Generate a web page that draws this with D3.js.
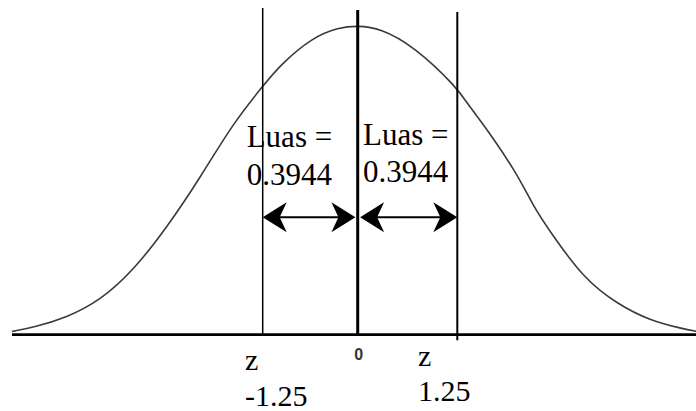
<!DOCTYPE html>
<html>
<head>
<meta charset="utf-8">
<script src="https://cdn.jsdelivr.net/npm/d3@7"></script>
<style>
  body { margin: 0; background: #fff; }
  svg { display: block; }
</style>
</head>
<body>
<div id="chart"></div>
<script>
// normal curve: z value and relative height (peak = 1)
const curveZ = [-4.55, -4.27, -3.83, -3.39, -2.95, -2.51, -2.07, -1.64, -1.25, -1.02, -0.59, -0.25, 0,
                0.28, 0.70, 1.25, 1.41, 1.57, 2.00, 2.20, 2.41, 2.83, 3.25, 3.67, 4.08, 4.26];
const curveH = [0.010, 0.023, 0.055, 0.110, 0.208, 0.347, 0.509, 0.684, 0.804, 0.873, 0.963, 0.994, 1.0,
                0.992, 0.935, 0.800, 0.735, 0.684, 0.522, 0.417, 0.335, 0.183, 0.100, 0.045, 0.019, 0.010];

// vertical lines at z = -1.25, 0, 1.25 (top and bottom in height units)
const lineZ = [-1.25, 0, 1.25];
const lineTop = [1.057, 1.051, 1.044];
const lineBottom = [0, 0, -0.018];
const lineWidth = [1.5, 3, 2];

// the two area arrows
const arrowFrom = [-1.25, 0.03];
const arrowTo = [-0.03, 1.25];
const arrowLevel = 0.38;
const areaLabel = "Luas =";
const areaValue = ["0.3944", "0.3944"];

// z labels under the axis
const zValues = ["-1.25", "1.25"];

const width = 696, height = 411;

let svg = d3.select("#chart")
            .append("svg")
            .attr("width", width)
            .attr("height", height)
            .attr("viewBox", [0, 0, width, height]);

// x scale is a bit wider on the right side than on the left in the picture
const x = d3.scaleLinear()
            .domain([-1.25, 0, 1.25])
            .range([262.7, 357.7, 457.3]);

const y = d3.scaleLinear()
            .domain([0, 1])
            .range([334.6, 25.7]);

const serif = "'Times New Roman', 'Liberation Serif', serif";

// horizontal axis
svg.append("line")
    .attr("x1", 12)
    .attr("x2", width)
    .attr("y1", y(0))
    .attr("y2", y(0))
    .attr("stroke", "#000")
    .attr("stroke-width", 2.6);

// the bell curve (basis smooths out small reading errors)
const curve = curveZ.map((z, i) => [z, curveH[i]]);
const line = d3.line()
    .x(d => x(d[0]))
    .y(d => y(d[1]))
    .curve(d3.curveBasis);

svg.append("path")
    .attr("d", line(curve))
    .attr("fill", "none")
    .attr("stroke", "#3a3a3a")
    .attr("stroke-width", 1.6);

// vertical lines
svg.selectAll(".vline")
    .data(lineZ)
    .join("line")
    .attr("class", "vline")
    .attr("x1", d => x(d))
    .attr("x2", d => x(d))
    .attr("y1", (d, i) => y(lineTop[i]))
    .attr("y2", (d, i) => y(lineBottom[i]))
    .attr("stroke", "#000")
    .attr("stroke-width", (d, i) => lineWidth[i]);

// arrowhead: tip at (0,0) pointing left, notched back
const head = [[0, 0], [24, -15], [17, 0], [24, 15]];
function arrowHead(tx, ty, dir) {
    return "M" + head.map(p => [tx + dir * p[0], ty + p[1]].join(",")).join("L") + "Z";
}

arrowFrom.forEach((a, i) => {
    const x1 = x(a), x2 = x(arrowTo[i]), yy = y(arrowLevel);
    svg.append("line")
        .attr("x1", x1 + 10)
        .attr("x2", x2 - 10)
        .attr("y1", yy)
        .attr("y2", yy)
        .attr("stroke", "#000")
        .attr("stroke-width", 2);
    svg.append("path").attr("d", arrowHead(x1, yy, 1)).attr("fill", "#000");
    svg.append("path").attr("d", arrowHead(x2, yy, -1)).attr("fill", "#000");
});

// "Luas =" labels
const labelX = [246.7, 363];
const labelY = [146.7, 145];
const valueY = [185, 182];
labelX.forEach((lx, i) => {
    svg.append("text")
        .text(areaLabel)
        .attr("x", lx)
        .attr("y", labelY[i])
        .style("font-family", serif)
        .style("font-size", "31px")
        .style("fill", "#000");
    svg.append("text")
        .text(areaValue[i])
        .attr("x", lx)
        .attr("y", valueY[i])
        .style("font-family", serif)
        .style("font-size", "31px")
        .style("fill", "#000");
});

// z labels under the axis
const zLabelX = [245, 418];
const zY = [370, 366];
const zValY = [406, 401];
zValues.forEach((v, i) => {
    svg.append("text")
        .text("z")
        .attr("x", zLabelX[i])
        .attr("y", zY[i])
        .style("font-family", serif)
        .style("font-size", "30px")
        .style("fill", "#000");
    svg.append("text")
        .text(v)
        .attr("x", zLabelX[i])
        .attr("y", zValY[i])
        .style("font-family", serif)
        .style("font-size", "30px")
        .style("fill", "#000");
});

// zero under the centre
svg.append("text")
    .text("0")
    .attr("x", x(0) + 1)
    .attr("y", 360)
    .attr("text-anchor", "middle")
    .attr("font-family", "Arial, 'Liberation Sans', sans-serif")
    .attr("font-size", 16)
    .attr("font-weight", "bold")
    .attr("fill", "#333");
</script>
</body>
</html>
